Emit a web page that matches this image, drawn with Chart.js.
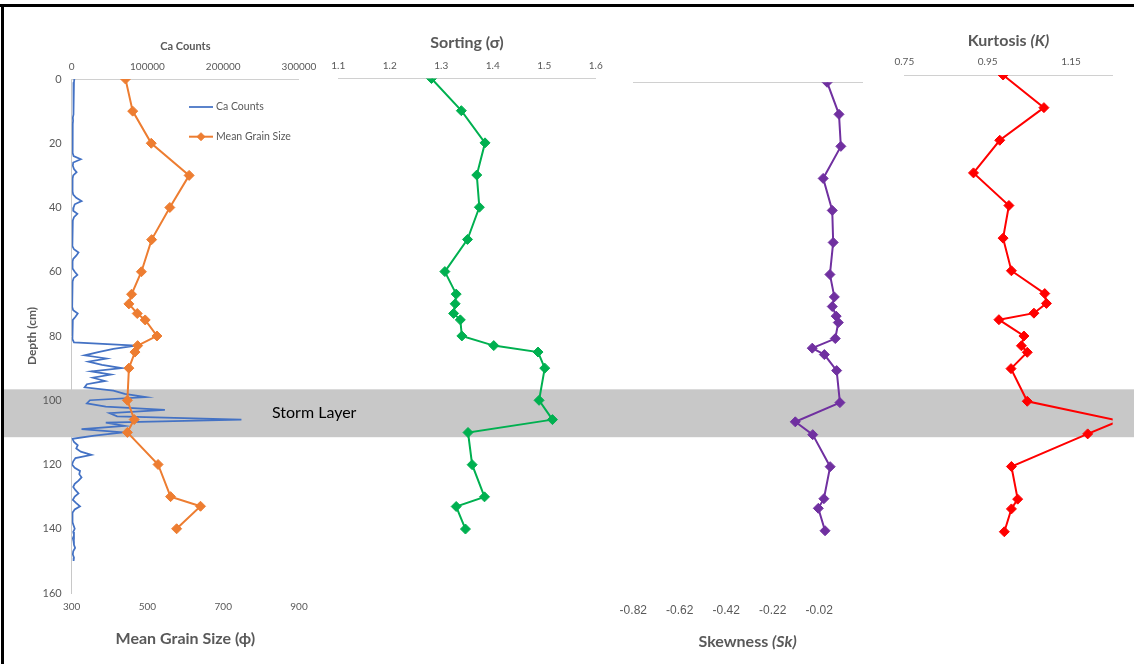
<!DOCTYPE html>
<html><head><meta charset="utf-8">
<script src="https://cdn.jsdelivr.net/npm/chart.js@4.4.1/dist/chart.umd.min.js"></script>
<style>
html,body{margin:0;padding:0;background:#fff;}
#wrap{position:relative;width:1134px;height:664px;overflow:hidden;background:#fff;}
#wrap canvas{position:absolute;left:0;top:0;}
</style></head>
<body><div id="wrap">
<canvas id="cLeft" width="1134" height="664"></canvas>
<canvas id="cSort" width="1134" height="664"></canvas>
<canvas id="cSkew" width="1134" height="664"></canvas>
<canvas id="cKurt" width="1134" height="664"></canvas>
</div>
<script>
// ---------------- data ----------------
const sampleDepths  = [0,10,20,30,40,50,60,67,70,73,75,80,83,85,90,100,106,110,120,130,133,140];
const meanGrainSize = [442,461,510,610,559,511,484,458,451,473,494,525,474,467,451,447,465,447,528,561,640,577];
const sorting       = [1.281,1.339,1.385,1.369,1.374,1.351,1.307,1.329,1.327,1.324,1.337,1.340,1.402,1.488,1.501,1.490,1.516,1.352,1.360,1.384,1.329,1.347];
const skewness      = [0.014,0.065,0.073,-0.003,0.036,0.040,0.026,0.045,0.036,0.053,0.062,0.049,-0.050,0.002,0.055,0.069,-0.123,-0.048,0.027,0.000,-0.024,0.005];
const kurtosis      = [0.987,1.085,0.979,0.916,1.001,0.987,1.007,1.087,1.091,1.061,0.977,1.037,1.031,1.045,1.006,1.045,1.265,1.190,1.007,1.022,1.007,0.990];

const caDepths = [0,1,2,3,4,5,6,7,8,9,10,11,12,13,14,15,16,17,18,19,20,21,22,23,24,25,26,27,28,29,30,31,32,33,34,35,36,37,38,39,40,41,42,43,44,45,46,47,48,49,50,51,52,53,54,55,56,57,58,59,60,61,62,63,64,65,66,67,68,69,70,71,72,73,74,75,76,77,78,79,80,81,82,83,84,85,86,87,88,89,90,91,92,93,94,95,96,97,98,99,100,101,102,103,104,105,106,107,108,109,110,111,112,113,114,115,116,117,118,119,120,121,122,123,124,125,126,127,128,129,130,131,132,133,134,135,136,137,138,139,140,141,142,143,144,145,146,147,148,149,150];
const caCounts = [3500,3000,2500,3000,2500,2800,2200,2500,2000,2300,1800,2000,1500,1800,1400,1600,1200,1500,1100,1400,1000,1200,1000,1300,2500,12000,2000,1500,3000,6500,2000,1200,1000,1400,1000,1200,2000,6000,13000,4000,2500,2000,7500,3000,1500,1000,700,500,800,1000,1200,900,1200,3000,9000,6000,2000,1000,800,1500,4000,7500,2500,1200,900,800,600,700,500,600,700,600,2000,8000,5000,1500,1000,800,1200,900,800,1200,3000,85000,55000,35000,17000,46000,22000,40000,66000,26000,52000,28000,44000,20000,17000,55000,70000,98000,24000,20000,45000,123000,50000,60000,224000,45000,70000,13000,68000,30000,1000,3000,8000,6000,12000,26000,5000,2000,500,4000,11000,10000,13000,9000,4000,2000,5000,9000,4000,1500,6000,11000,4000,1000,800,1000,1500,2500,4000,2000,3000,1500,2500,3000,4500,2000,1500,3000,2500];

const depthTicks   = [0,20,40,60,80,100,120,140,160];
const caTicks      = [0,100000,200000,300000];
const grainTicks   = [300,500,700,900];
const sortingTicks = [1.1,1.2,1.3,1.4,1.5,1.6];
const skewTicks    = [-0.82,-0.62,-0.42,-0.22,-0.02];
const kurtTicks    = [0.75,0.95,1.15];
const stormLayer   = [96.6,111.5];

// ---------------- styling helpers ----------------
const CAL = "Lato, 'Open Sans', 'DejaVu Sans', sans-serif";
const ARIAL = "'Liberation Sans', Arial, sans-serif";
const GREY = '#595959';
const AXIS = '#D0D0D0';
const pairs = (xs, ys) => xs.map((v, i) => ({x: v, y: ys[i]}));
const fixedTicks = vals => s => { s.ticks = vals.map(v => ({value: v})); };
const setH = h => s => { s.height = h; };
const setW = w => s => { s.width = w; };
const noGrid = {display: false, drawTicks: false};
const depthAxis = (extra) => Object.assign({type: 'linear', reverse: true, min: 0, max: 160, display: false}, extra || {});
const markerSet = c => ({borderColor: c, backgroundColor: c, borderWidth: 2, pointStyle: 'rectRot', pointRadius: 5, pointBorderWidth: 1, pointBackgroundColor: c, pointBorderColor: c, tension: 0});
const base = {responsive: false, animation: false, events: [], indexAxis: 'y', plugins: {legend: {display: false}, tooltip: {enabled: false}}};

function mixedTitle(parts, yPos, size) {
  return {id: 'mixedTitle', afterDraw(chart) {
    const ctx = chart.ctx; const a = chart.chartArea;
    ctx.save(); ctx.fillStyle = GREY; ctx.textBaseline = 'middle';
    let total = 0;
    parts.forEach(p => { ctx.font = (p.italic ? 'italic ' : '') + 'bold ' + size + 'px ' + CAL; total += ctx.measureText(p.text).width; });
    let x = (a.left + a.right) / 2 - total / 2;
    parts.forEach(p => { ctx.font = (p.italic ? 'italic ' : '') + 'bold ' + size + 'px ' + CAL; ctx.textAlign = 'left'; ctx.fillText(p.text, x, yPos); x += ctx.measureText(p.text).width; });
    ctx.restore();
  }};
}

const bgPlugin = {id: 'bg', beforeDraw(chart) {
  const ctx = chart.ctx; const y = chart.scales.y;
  const t = y.getPixelForValue(stormLayer[0]), b = y.getPixelForValue(stormLayer[1]);
  ctx.save();
  ctx.fillStyle = '#C8C8C8'; ctx.fillRect(4, t, chart.width - 4, b - t);
  ctx.fillStyle = '#000'; ctx.fillRect(0, 4, chart.width, 3); ctx.fillRect(1, 4, 3, chart.height - 4);
  ctx.fillStyle = '#000'; ctx.font = '16px ' + CAL; ctx.textBaseline = 'middle'; ctx.textAlign = 'left';
  ctx.fillText('Storm Layer', 272, (t + b) / 2);
  ctx.restore();
}};

const legendPlugin = {id: 'customLegend', afterDraw(chart) {
  const ctx = chart.ctx; const rows = [107, 136.7];
  ctx.save();
  chart.data.datasets.forEach((ds, i) => {
    const y = rows[i];
    ctx.strokeStyle = ds.borderColor; ctx.lineWidth = ds.borderWidth;
    ctx.beginPath(); ctx.moveTo(189, y); ctx.lineTo(213, y); ctx.stroke();
    if (ds.pointRadius > 0) {
      ctx.fillStyle = ds.backgroundColor; ctx.strokeStyle = ds.borderColor; ctx.lineWidth = 1;
      Chart.helpers.drawPoint(ctx, {pointStyle: 'rectRot', radius: 4, borderWidth: 1}, 201, y);
    }
    ctx.fillStyle = GREY; ctx.font = '10.5px ' + CAL; ctx.textBaseline = 'middle'; ctx.textAlign = 'left';
    ctx.fillText(ds.label, 216, y);
  });
  ctx.restore();
}};

// ---------------- left panel: Ca counts + mean grain size ----------------
new Chart(document.getElementById('cLeft'), {
  type: 'line',
  data: {datasets: [
    {label: 'Ca Counts', data: pairs(caCounts, caDepths), xAxisID: 'x2', yAxisID: 'y', borderColor: '#4472C4', backgroundColor: '#4472C4', borderWidth: 1.75, pointRadius: 0, tension: 0, order: 1},
    Object.assign({label: 'Mean Grain Size', data: pairs(meanGrainSize, sampleDepths), xAxisID: 'x', yAxisID: 'y', order: 0}, markerSet('#ED7D31'))
  ]},
  options: Object.assign({}, base, {
    layout: {padding: {left: 0, top: 0, right: 835, bottom: 0}},
    scales: {
      y: depthAxis({display: true, position: 'left', afterBuildTicks: fixedTicks(depthTicks), afterFit: setW(71.7),
        grid: noGrid, border: {display: true, color: '#C8C8C8', width: 1},
        ticks: {color: GREY, font: {family: CAL, size: 11}, padding: 10, autoSkip: false},
        title: {display: true, text: 'Depth (cm)', color: GREY, font: {family: CAL, size: 12, weight: 'bold'}, padding: {top: 25, bottom: 0}}}),
      x: {type: 'linear', position: 'bottom', min: 300, max: 900, afterBuildTicks: fixedTicks(grainTicks), afterFit: setH(71),
        grid: noGrid, border: {display: false},
        ticks: {color: GREY, font: {family: CAL, size: 10}, padding: 7.5, autoSkip: false, maxRotation: 0, callback: v => String(v)},
        title: {display: true, text: 'Mean Grain Size (ϕ)', color: GREY, font: {family: CAL, size: 16, weight: 'bold'}, padding: {top: 0, bottom: 15.5}}},
      x2: {type: 'linear', axis: 'x', position: 'top', min: 0, max: 300000, afterBuildTicks: fixedTicks(caTicks), afterFit: setH(79),
        grid: noGrid, border: {display: true, color: AXIS, width: 1},
        ticks: {color: GREY, font: {family: CAL, size: 10}, padding: 6.5, autoSkip: false, maxRotation: 0, callback: v => String(v)},
        title: {display: true, text: 'Ca Counts', color: GREY, font: {family: CAL, size: 11, weight: 'bold'}, padding: {top: 40, bottom: 0}}}
    }
  }),
  plugins: [bgPlugin, legendPlugin]
});

// ---------------- sorting ----------------
new Chart(document.getElementById('cSort'), {
  type: 'line',
  data: {datasets: [Object.assign({label: 'Sorting', data: pairs(sorting, sampleDepths), xAxisID: 'x', yAxisID: 'y'}, markerSet('#00B050'))]},
  options: Object.assign({}, base, {
    layout: {padding: {left: 338.3, top: 0, right: 538.3, bottom: 70.6}},
    scales: {
      y: depthAxis(),
      x: {type: 'linear', position: 'top', min: 1.1, max: 1.6, afterBuildTicks: fixedTicks(sortingTicks), afterFit: setH(78.5),
        grid: noGrid, border: {display: true, color: AXIS, width: 1},
        ticks: {color: GREY, font: {family: CAL, size: 10}, padding: 7, autoSkip: false, maxRotation: 0, callback: v => v.toFixed(1)},
        title: {display: true, text: 'Sorting (σ)', color: GREY, font: {family: CAL, size: 16, weight: 'bold'}, padding: {top: 33, bottom: 0}}}
    }
  })
});

// ---------------- skewness ----------------
new Chart(document.getElementById('cSkew'), {
  type: 'line',
  data: {datasets: [Object.assign({label: 'Skewness', data: pairs(skewness, sampleDepths), xAxisID: 'x', yAxisID: 'y'}, markerSet('#7030A0'))]},
  options: Object.assign({}, base, {
    layout: {padding: {left: 633.3, top: 0, right: 272, bottom: 0}},
    scales: {
      y: depthAxis(),
      x: {type: 'linear', position: 'bottom', min: -0.82, max: 0.164, afterBuildTicks: fixedTicks(skewTicks), afterFit: setH(69.2),
        grid: noGrid, border: {display: false},
        ticks: {color: GREY, font: {family: ARIAL, size: 12}, padding: 8.5, autoSkip: false, maxRotation: 0, callback: v => v.toFixed(2)}},
      x2: {type: 'linear', axis: 'x', position: 'top', min: -0.82, max: 0.164, afterFit: setH(82.3),
        grid: noGrid, border: {display: true, color: AXIS, width: 1}, ticks: {display: false}}
    }
  }),
  plugins: [mixedTitle([{text: 'Skewness '}, {text: '(Sk)', italic: true}], 642, 16)]
});

// ---------------- kurtosis ----------------
new Chart(document.getElementById('cKurt'), {
  type: 'line',
  data: {datasets: [Object.assign({label: 'Kurtosis', data: pairs(kurtosis, sampleDepths), xAxisID: 'x', yAxisID: 'y'}, markerSet('#FF0000'))]},
  options: Object.assign({}, base, {
    layout: {padding: {left: 904.3, top: 0, right: 21.3, bottom: 67}},
    scales: {
      y: depthAxis(),
      x: {type: 'linear', position: 'top', min: 0.75, max: 1.25, afterBuildTicks: fixedTicks(kurtTicks), afterFit: setH(75),
        grid: noGrid, border: {display: true, color: AXIS, width: 1},
        ticks: {color: GREY, font: {family: CAL, size: 10}, padding: 7, autoSkip: false, maxRotation: 0, callback: v => v.toFixed(2)}}
    }
  }),
  plugins: [mixedTitle([{text: 'Kurtosis '}, {text: '(K)', italic: true}], 41, 16)]
});
</script>
</body></html>
